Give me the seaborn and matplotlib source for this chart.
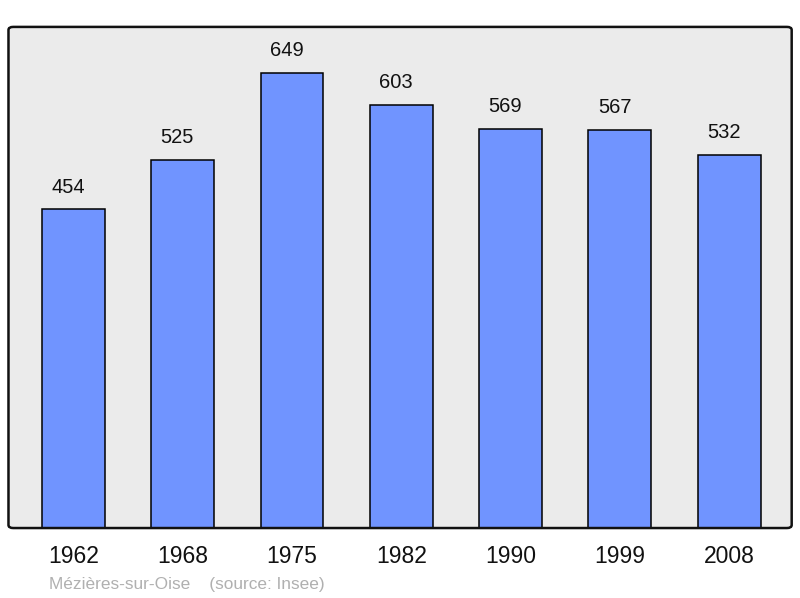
import matplotlib
matplotlib.use('Agg')
import matplotlib.pyplot as plt
from matplotlib.patches import FancyBboxPatch
import seaborn as sns
import pandas as pd

years = ['1962', '1968', '1975', '1982', '1990', '1999', '2008']
population = [454, 525, 649, 603, 569, 567, 532]
caption = 'Mézières-sur-Oise    (source: Insee)'

df = pd.DataFrame({'year': years, 'pop': population})

sns.set_theme(style='white')
plt.rcParams['font.family'] = ['Liberation Sans', 'DejaVu Sans']

fig = plt.figure(figsize=(8, 5.98), dpi=100)
ax = fig.add_axes([0.0106, 0.117, 0.979, 0.838])
ax.set_facecolor('#ebebeb')

sns.barplot(data=df, x='year', y='pop', color='#7094ff', saturation=1,
            width=0.576, edgecolor='black', linewidth=1.1, ax=ax)

ax.set_xlim(-0.594, 6.572)
ax.set_ylim(0, 714)
ax.set_xlabel('')
ax.set_ylabel('')
ax.set_yticks([])
ax.tick_params(axis='x', length=0, pad=12.5, labelsize=16.5, labelcolor='#111111')

# value labels above bars (slightly left of centre, as in the original)
for i, v in enumerate(population):
    ax.annotate(str(v), (i, v), xytext=(-3.8, 16), textcoords='offset points',
                ha='center', va='center', fontsize=14.5, color='#111111')

# rounded frame
for s in ax.spines.values():
    s.set_visible(False)
frame = FancyBboxPatch((0, 0), 1, 1, boxstyle='round,pad=0,rounding_size=0.006',
                       transform=ax.transAxes, fill=False, edgecolor='#111111',
                       linewidth=1.8, clip_on=False, zorder=5)
ax.add_patch(frame)

fig.text(49 / 800, 1 - 584 / 598, caption, fontsize=12.4, color='#b0b0b0',
         ha='left', va='center')

fig.savefig('out.png', dpi=100)
